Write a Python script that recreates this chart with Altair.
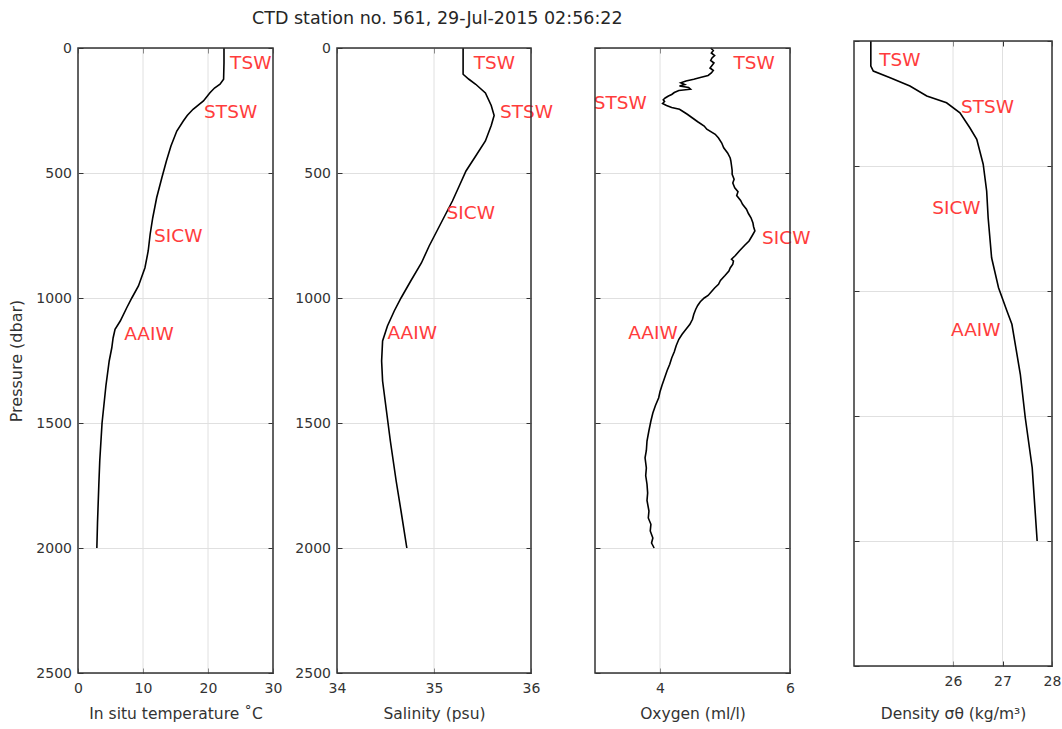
import altair as alt
import pandas as pd

FONT = "DejaVu Sans"
TXT = "#333333"
AX = "#333333"
GRID = "#e0e0e0"
RED = "#ff3c3c"

TITLE = "CTD station no. 561, 29-Jul-2015 02:56:22"
P_DOMAIN = [0, 2500]
P_TICKS = [0, 500, 1000, 1500, 2000, 2500]
LAB_NAMES = ["TSW", "STSW", "SICW", "AAIW"]

# ---- Temperature ----
temp_p = [0, 60, 125, 145, 160, 179, 212, 245, 270, 292, 332, 392, 452, 519, 599, 679, 745,
          812, 879, 952, 999, 1039, 1092, 1125, 1160, 1199, 1252, 1350, 1500, 1650, 1750, 1900, 2000]
temp_v = [22.46, 22.46, 22.4, 21.85, 21.0, 20.3, 19.3, 17.7, 16.8, 16.2, 15.2, 14.3, 13.6, 12.9, 12.1, 11.5, 11.1,
          10.8, 10.3, 9.3, 8.3, 7.5, 6.5, 5.7, 5.4, 5.2, 4.8, 4.3, 3.7, 3.35, 3.2, 3.0, 2.9]
temp_xdomain = [0, 30]
temp_xticks = [0, 10, 20, 30]
temp_lab_x = [23.4, 19.4, 11.7, 7.1]
temp_lab_p = [59, 257, 753, 1142]

# ---- Salinity ----
sal_p = [0, 60, 105, 125, 145, 180, 230, 270, 310, 372, 432, 492, 552, 612, 672, 732, 792, 860, 932,
         1000, 1052, 1112, 1172, 1252, 1332, 1452, 1572, 1732, 1852, 2000]
sal_v = [35.30, 35.30, 35.30, 35.36, 35.43, 35.53, 35.59, 35.62, 35.59, 35.53, 35.43, 35.33, 35.26, 35.19,
         35.11, 35.03, 34.95, 34.87, 34.76, 34.66, 34.59, 34.52, 34.47, 34.46, 34.47, 34.51, 34.55, 34.61,
         34.66, 34.72]
sal_xdomain = [34, 36]
sal_xticks = [34, 35, 36]
sal_lab_x = [35.41, 35.68, 35.13, 34.52]
sal_lab_p = [60, 256, 660, 1140]

# ---- Oxygen ----
oxy_p = [0, 10, 20, 30, 40, 50, 60, 70, 80, 90, 100, 110, 118, 125, 132, 139, 146, 152, 158, 165, 170,
         178, 186, 192, 200, 207, 214, 222, 230, 238, 245, 255, 265, 280, 295, 312, 325, 345, 360, 380,
         399, 420, 440, 452, 470, 490, 505, 525, 540, 559, 575, 590, 610, 625, 645, 662, 679, 700, 715,
         732, 750, 772, 790, 812, 830, 845, 852, 865, 880, 892, 910, 930, 945, 960, 975, 990, 1000, 1015,
         1030, 1045, 1065, 1085, 1105, 1125, 1145, 1165, 1190, 1215, 1240, 1265, 1290, 1320, 1350, 1375,
         1399, 1430, 1460, 1492, 1530, 1572, 1610, 1639, 1680, 1710, 1745, 1780, 1810, 1852, 1880, 1905,
         1932, 1960, 1980, 2000]
oxy_v = [4.78, 4.82, 4.79, 4.84, 4.80, 4.78, 4.83, 4.80, 4.77, 4.82, 4.79, 4.74, 4.62, 4.52, 4.40, 4.32,
         4.38, 4.30, 4.44, 4.47, 4.29, 4.22, 4.18, 4.13, 4.08, 4.05, 4.07, 4.04, 4.10, 4.18, 4.30, 4.36,
         4.42, 4.50, 4.58, 4.68, 4.72, 4.85, 4.90, 4.95, 4.98, 5.04, 5.08, 5.09, 5.10, 5.11, 5.11, 5.14,
         5.12, 5.15, 5.20, 5.18, 5.24, 5.27, 5.33, 5.36, 5.40, 5.43, 5.44, 5.46, 5.42, 5.37, 5.30, 5.22,
         5.16, 5.10, 5.13, 5.12, 5.08, 5.06, 5.00, 4.93, 4.90, 4.84, 4.79, 4.74, 4.68, 4.62, 4.58, 4.55,
         4.52, 4.50, 4.46, 4.40, 4.34, 4.29, 4.25, 4.22, 4.18, 4.15, 4.11, 4.07, 4.03, 4.00, 3.98, 3.93,
         3.89, 3.86, 3.83, 3.80, 3.79, 3.77, 3.79, 3.78, 3.80, 3.81, 3.80, 3.83, 3.82, 3.86, 3.85, 3.89,
         3.87, 3.91]
oxy_xdomain = [3, 6]
oxy_xticks = [4, 6]
oxy_lab_x = [5.13, 2.98, 5.57, 3.51]
oxy_lab_p = [59, 219, 759, 1139]

# ---- Density ----
den_p = [0, 100, 120, 147, 180, 220, 247, 287, 347, 393, 493, 600, 707, 867, 987, 1080, 1133, 1333,
         1507, 1707, 2000]
den_v = [24.34, 24.34, 24.39, 24.73, 25.13, 25.47, 25.87, 26.14, 26.34, 26.48, 26.61, 26.68, 26.71,
         26.78, 26.92, 27.09, 27.19, 27.36, 27.46, 27.60, 27.70]
den_xdomain = [24, 28]
den_xticks = [26, 27, 28]
den_lab_x = [24.51, 26.16, 25.58, 25.96]
den_lab_p = [77, 264, 667, 1157]


def panel(p, v, xdom, xticks, lx, lp, xtitle, width, ylabels, ytitle=None, shifted=False):
    line_df = pd.DataFrame({"p": p, "v": v})
    lab_df = pd.DataFrame({"name": LAB_NAMES, "lx": lx, "lp": lp})
    frame_df = pd.DataFrame({"fx0": [xdom[0]], "fx1": [xdom[1]],
                             "fy0": [P_DOMAIN[0]], "fy1": [P_DOMAIN[1]]})
    grid_df = pd.DataFrame({"gx": xticks, "gy0": [P_DOMAIN[0]] * len(xticks),
                            "gy1": [P_DOMAIN[1]] * len(xticks)})

    yrange = [-7, 618] if shifted else [0, 625]
    xs = alt.Scale(domain=xdom, nice=False, zero=False)
    ys = alt.Scale(domain=P_DOMAIN, nice=False, zero=False, range=yrange)

    xaxis = alt.Axis(orient="bottom", values=xticks, format=".0f", tickSize=5,
                     offset=-12 if shifted else -5,
                     domain=False, grid=False, tickColor=AX, tickWidth=1,
                     labelFont=FONT, labelFontSize=14, labelColor=TXT, labelPadding=8,
                     labelFlush=False, labelOverlap=False, labelBound=False,
                     title=xtitle, titleFont=FONT, titleFontSize=15.5, titleFontWeight="normal",
                     titleColor=TXT, titlePadding=11 if not shifted else 18)
    yaxis = alt.Axis(orient="left", values=P_TICKS, format="d", tickSize=5, offset=-5, domain=False,
                     grid=True, gridColor=GRID, tickColor=AX, tickWidth=1,
                     labels=ylabels, labelFont=FONT, labelFontSize=14, labelColor=TXT, labelPadding=6.5,
                     labelFlush=False, labelOverlap=False,
                     title=ytitle, titleFont=FONT, titleFontSize=16, titleFontWeight="normal",
                     titleColor=TXT, titlePadding=11)

    grid = alt.Chart(grid_df).mark_rule(color=GRID, strokeWidth=1).encode(
        x=alt.X("gx:Q", scale=xs, axis=None),
        y=alt.Y("gy0:Q", scale=ys, axis=None),
        y2="gy1",
    )
    line = alt.Chart(line_df).mark_line(color="black", strokeWidth=1.6).encode(
        x=alt.X("v:Q", scale=xs, axis=xaxis),
        y=alt.Y("p:Q", scale=ys, axis=yaxis),
        order=alt.Order("p:Q"),
    )
    text = alt.Chart(lab_df).mark_text(align="left", baseline="middle", font=FONT,
                                       fontSize=18.5, color=RED).encode(
        x=alt.X("lx:Q", scale=xs,
                axis=alt.Axis(orient="top", values=xticks, tickSize=5, offset=2 if shifted else -5,
                              labels=False, domain=False, grid=False, tickColor=AX, title=None)),
        y=alt.Y("lp:Q", scale=ys,
                axis=alt.Axis(orient="right", values=P_TICKS, tickSize=5, offset=-5,
                              labels=False, domain=False, grid=False, tickColor=AX, title=None)),
        text="name:N",
    )
    frame = alt.Chart(frame_df).mark_rect(fillOpacity=0, stroke=AX, strokeWidth=1.5).encode(
        x=alt.X("fx0:Q", scale=xs, axis=None),
        x2="fx1",
        y=alt.Y("fy0:Q", scale=ys, axis=None),
        y2="fy1",
    )
    return alt.layer(grid, line, text, frame).resolve_axis(
        x="independent", y="independent").properties(width=width, height=625)


p1 = panel(temp_p, temp_v, temp_xdomain, temp_xticks, temp_lab_x, temp_lab_p,
           "In situ temperature ˚C", 195, True, "Pressure (dbar)")
p2 = panel(sal_p, sal_v, sal_xdomain, sal_xticks, sal_lab_x, sal_lab_p,
           "Salinity (psu)", 194, True)
p3 = panel(oxy_p, oxy_v, oxy_xdomain, oxy_xticks, oxy_lab_x, oxy_lab_p,
           "Oxygen (ml/l)", 195, False)
p4 = panel(den_p, den_v, den_xdomain, den_xticks, den_lab_x, den_lab_p,
           "Density σθ (kg/m³)", 198, False, shifted=True)

chart = alt.hconcat(p1, p2, p3, p4, spacing=64, bounds="flush").properties(
    title=alt.TitleParams(TITLE, font=FONT, fontSize=17.5, fontWeight="normal", color="#262626",
                          anchor="start", frame="group", dx=174, offset=10),
    padding={"left": 8, "top": 9, "right": 0, "bottom": 0},
).configure_view(stroke="transparent")

chart.save("out.html", embed_options={"renderer": "svg", "actions": False})
